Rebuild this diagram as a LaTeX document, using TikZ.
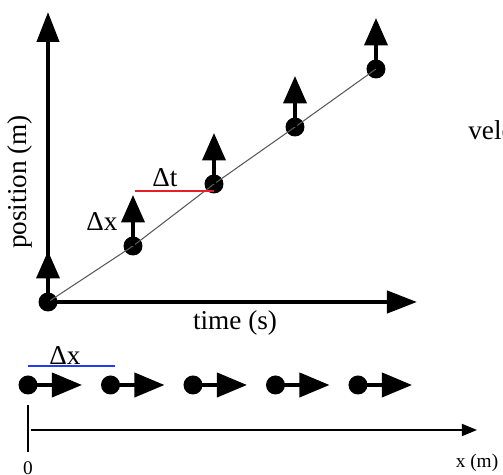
\documentclass[tikz,border=0pt]{standalone}
\usepackage{fontspec}
\setmainfont{Liberation Serif}
\usetikzlibrary{arrows.meta,positioning,calc}
\definecolor{deltared}{RGB}{230,30,40}
\definecolor{deltablue}{RGB}{40,60,230}
\tikzset{
  ball/.style={circle,fill=black,inner sep=0pt,minimum size=0.38cm},
  velarrow/.style={line width=2.2pt,-{Triangle[length=0.55cm,width=0.46cm]}},
  axis/.style={line width=2.4pt,-{Triangle[length=0.6cm,width=0.44cm]}},
  lbl/.style={font=\fontsize{15.5}{18}\selectfont,inner sep=0pt},
  smalllbl/.style={font=\fontsize{11}{13}\selectfont,inner sep=0pt}
}

\begin{document}
\begin{tikzpicture}[>=Latex]
\useasboundingbox (0,0) rectangle (10.06,9.5);
% position-time graph
\coordinate (O) at (0.96,3.46);
\coordinate (ytip) at (0.96,9.26);
\coordinate (ttip) at (8.34,3.46);
\draw[axis] (O)--(ytip);
\draw[axis] (O)--(ttip);
\node[lbl,rotate=90] (poslbl) at (0.40,5.86) {position (m)};
\node[lbl] (timelbl) at (4.70,3.04) {time (s)};
\node[ball] (p0) at (O) {};
\node[ball] (p1) at (2.66,4.58) {};
\node[ball] (p2) at (4.28,5.82) {};
\node[ball] (p3) at (5.90,6.96) {};
\node[ball] (p4) at (7.52,8.12) {};
\draw[gray!70!black,line width=0.6pt] (p0.center)--(p1.center)--(p2.center)--(p3.center)--(p4.center);
\foreach \i in {0,...,4}{
  \draw[velarrow] (p\i.center)--++(0,1.02);
}
\coordinate (dtstart) at ($(p1.center)+(0.04,1.10)$);
\draw[deltared,line width=1.2pt] (dtstart)--(dtstart -| p2);
\node[lbl] (dtlbl) at (3.30,5.94) {Δt};
\node[lbl] (dxlbl) at (2.04,5.06) {Δx};
\node[lbl,anchor=west] (vlbl) at (9.36,6.84) {velocity};
% position line below
\coordinate (dxa) at (0.56,2.18);
\coordinate (dxb) at (2.30,2.18);
\draw[deltablue,line width=1.2pt] (dxa)--(dxb);
\node[lbl] (dxlbl2) at (1.30,2.38) {Δx};
\foreach \i in {0,...,4}{
  \node[ball] (b\i) at ({0.56+1.65*\i},1.80) {};
  \draw[line width=2.2pt,-{Triangle[length=0.6cm,width=0.48cm]}] (b\i.center)--++(1.08,0);
}
\coordinate (tick0) at (0.56,1.40);
\coordinate (tick1) at (0.56,0.46);
\draw[line width=1pt] (tick0)--(tick1);
\coordinate (xa) at (0.62,0.90);
\coordinate (xb) at (9.54,0.90);
\draw[line width=0.9pt,-{Triangle[length=0.3cm,width=0.24cm]}] (xa)--(xb);
\node[smalllbl] (zero) at (0.56,0.14) {0};
\node[smalllbl] (xlbl) at (9.54,0.24) {x (m)};
\end{tikzpicture}
\end{document}
